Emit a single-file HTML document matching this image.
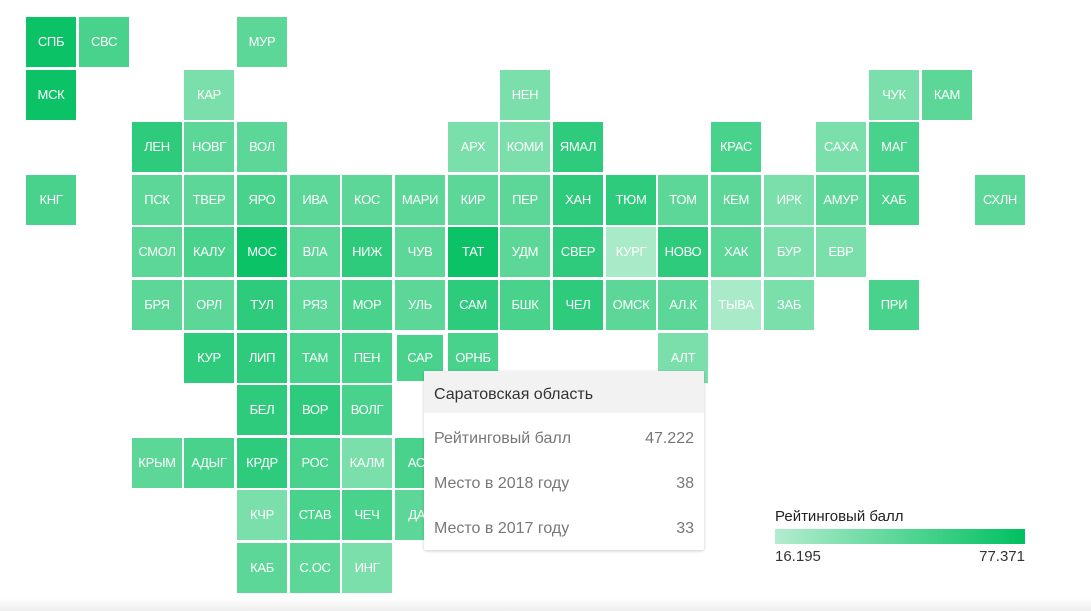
<!DOCTYPE html>
<html><head><meta charset="utf-8"><style>
body{margin:0;width:1091px;height:611px;background:#fff;position:relative;overflow:hidden;font-family:"Liberation Sans","DejaVu Sans",sans-serif}
.c{position:absolute;width:50px;height:50px;color:#fff;font-size:13px;line-height:50px;text-align:center;letter-spacing:-0.3px}
.a{background:#0cc267}.b{background:#2ecb7c}.m{background:#48d28b}.d{background:#5cd798}.e{background:#7bdfac}.f{background:#a9eac8}
.tt{position:absolute;left:424px;top:371px;width:280px;height:179px;background:#fff;box-shadow:0 1px 3px rgba(0,0,0,.2);border-radius:2px;font-size:16px;color:#777}
.tt .h{background:#f2f2f2;height:42px;line-height:47px;padding-left:10px;color:#333}
.tt .r{height:45px;line-height:51px;padding:0 10px;display:flex;justify-content:space-between}
</style></head><body>
<div class="c a" style="left:26px;top:17px">СПБ</div>
<div class="c m" style="left:79px;top:17px">СВС</div>
<div class="c d" style="left:237px;top:17px">МУР</div>
<div class="c a" style="left:26px;top:70px">МСК</div>
<div class="c e" style="left:184px;top:70px">КАР</div>
<div class="c e" style="left:500px;top:70px">НЕН</div>
<div class="c e" style="left:869px;top:70px">ЧУК</div>
<div class="c d" style="left:922px;top:70px">КАМ</div>
<div class="c b" style="left:132px;top:122px">ЛЕН</div>
<div class="c d" style="left:184px;top:122px">НОВГ</div>
<div class="c d" style="left:237px;top:122px">ВОЛ</div>
<div class="c e" style="left:448px;top:122px">АРХ</div>
<div class="c e" style="left:500px;top:122px">КОМИ</div>
<div class="c b" style="left:553px;top:122px">ЯМАЛ</div>
<div class="c m" style="left:711px;top:122px">КРАС</div>
<div class="c e" style="left:816px;top:122px">САХА</div>
<div class="c m" style="left:869px;top:122px">МАГ</div>
<div class="c m" style="left:26px;top:175px">КНГ</div>
<div class="c d" style="left:132px;top:175px">ПСК</div>
<div class="c d" style="left:184px;top:175px">ТВЕР</div>
<div class="c m" style="left:237px;top:175px">ЯРО</div>
<div class="c d" style="left:290px;top:175px">ИВА</div>
<div class="c d" style="left:342px;top:175px">КОС</div>
<div class="c d" style="left:395px;top:175px">МАРИ</div>
<div class="c d" style="left:448px;top:175px">КИР</div>
<div class="c d" style="left:500px;top:175px">ПЕР</div>
<div class="c b" style="left:553px;top:175px">ХАН</div>
<div class="c b" style="left:606px;top:175px">ТЮМ</div>
<div class="c d" style="left:658px;top:175px">ТОМ</div>
<div class="c d" style="left:711px;top:175px">КЕМ</div>
<div class="c e" style="left:764px;top:175px">ИРК</div>
<div class="c d" style="left:816px;top:175px">АМУР</div>
<div class="c m" style="left:869px;top:175px">ХАБ</div>
<div class="c d" style="left:975px;top:175px">СХЛН</div>
<div class="c d" style="left:132px;top:227px">СМОЛ</div>
<div class="c m" style="left:184px;top:227px">КАЛУ</div>
<div class="c a" style="left:237px;top:227px">МОС</div>
<div class="c d" style="left:290px;top:227px">ВЛА</div>
<div class="c b" style="left:342px;top:227px">НИЖ</div>
<div class="c d" style="left:395px;top:227px">ЧУВ</div>
<div class="c a" style="left:448px;top:227px">ТАТ</div>
<div class="c d" style="left:500px;top:227px">УДМ</div>
<div class="c b" style="left:553px;top:227px">СВЕР</div>
<div class="c f" style="left:606px;top:227px">КУРГ</div>
<div class="c b" style="left:658px;top:227px">НОВО</div>
<div class="c d" style="left:711px;top:227px">ХАК</div>
<div class="c e" style="left:764px;top:227px">БУР</div>
<div class="c e" style="left:816px;top:227px">ЕВР</div>
<div class="c d" style="left:132px;top:280px">БРЯ</div>
<div class="c d" style="left:184px;top:280px">ОРЛ</div>
<div class="c b" style="left:237px;top:280px">ТУЛ</div>
<div class="c d" style="left:290px;top:280px">РЯЗ</div>
<div class="c m" style="left:342px;top:280px">МОР</div>
<div class="c d" style="left:395px;top:280px">УЛЬ</div>
<div class="c b" style="left:448px;top:280px">САМ</div>
<div class="c m" style="left:500px;top:280px">БШК</div>
<div class="c b" style="left:553px;top:280px">ЧЕЛ</div>
<div class="c d" style="left:606px;top:280px">ОМСК</div>
<div class="c d" style="left:658px;top:280px">АЛ.К</div>
<div class="c f" style="left:711px;top:280px">ТЫВА</div>
<div class="c e" style="left:764px;top:280px">ЗАБ</div>
<div class="c m" style="left:869px;top:280px">ПРИ</div>
<div class="c b" style="left:184px;top:333px">КУР</div>
<div class="c b" style="left:237px;top:333px">ЛИП</div>
<div class="c m" style="left:290px;top:333px">ТАМ</div>
<div class="c m" style="left:342px;top:333px">ПЕН</div>
<div class="c m" style="left:397px;top:335px;width:46px;height:46px;line-height:46px">САР</div>
<div class="c m" style="left:448px;top:333px">ОРНБ</div>
<div class="c e" style="left:658px;top:333px">АЛТ</div>
<div class="c b" style="left:237px;top:385px">БЕЛ</div>
<div class="c b" style="left:290px;top:385px">ВОР</div>
<div class="c m" style="left:342px;top:385px">ВОЛГ</div>
<div class="c d" style="left:132px;top:438px">КРЫМ</div>
<div class="c m" style="left:184px;top:438px">АДЫГ</div>
<div class="c b" style="left:237px;top:438px">КРДР</div>
<div class="c m" style="left:290px;top:438px">РОС</div>
<div class="c e" style="left:342px;top:438px">КАЛМ</div>
<div class="c m" style="left:395px;top:438px">АСТ</div>
<div class="c e" style="left:237px;top:490px">КЧР</div>
<div class="c m" style="left:290px;top:490px">СТАВ</div>
<div class="c m" style="left:342px;top:490px">ЧЕЧ</div>
<div class="c d" style="left:395px;top:490px">ДАГ</div>
<div class="c d" style="left:237px;top:543px">КАБ</div>
<div class="c d" style="left:290px;top:543px">С.ОС</div>
<div class="c e" style="left:342px;top:543px">ИНГ</div>
<div class="tt">
<div class="h">Саратовская область</div>
<div class="r"><span>Рейтинговый балл</span><span>47.222</span></div>
<div class="r"><span>Место в 2018 году</span><span>38</span></div>
<div class="r"><span>Место в 2017 году</span><span>33</span></div>
</div>
<div style="position:absolute;left:775px;top:508px;font-size:15px;color:#222">Рейтинговый балл</div>
<div style="position:absolute;left:775px;top:529px;width:250px;height:15px;background:linear-gradient(to right,#b3eccf,#00c060)"></div>
<div style="position:absolute;left:775px;top:548px;font-size:15px;color:#333">16.195</div>
<div style="position:absolute;left:975px;top:548px;width:50px;text-align:right;font-size:15px;color:#333">77.371</div>
<div style="position:absolute;left:0;top:598px;width:1091px;height:13px;background:linear-gradient(#fff,#eee)"></div>
</body></html>
